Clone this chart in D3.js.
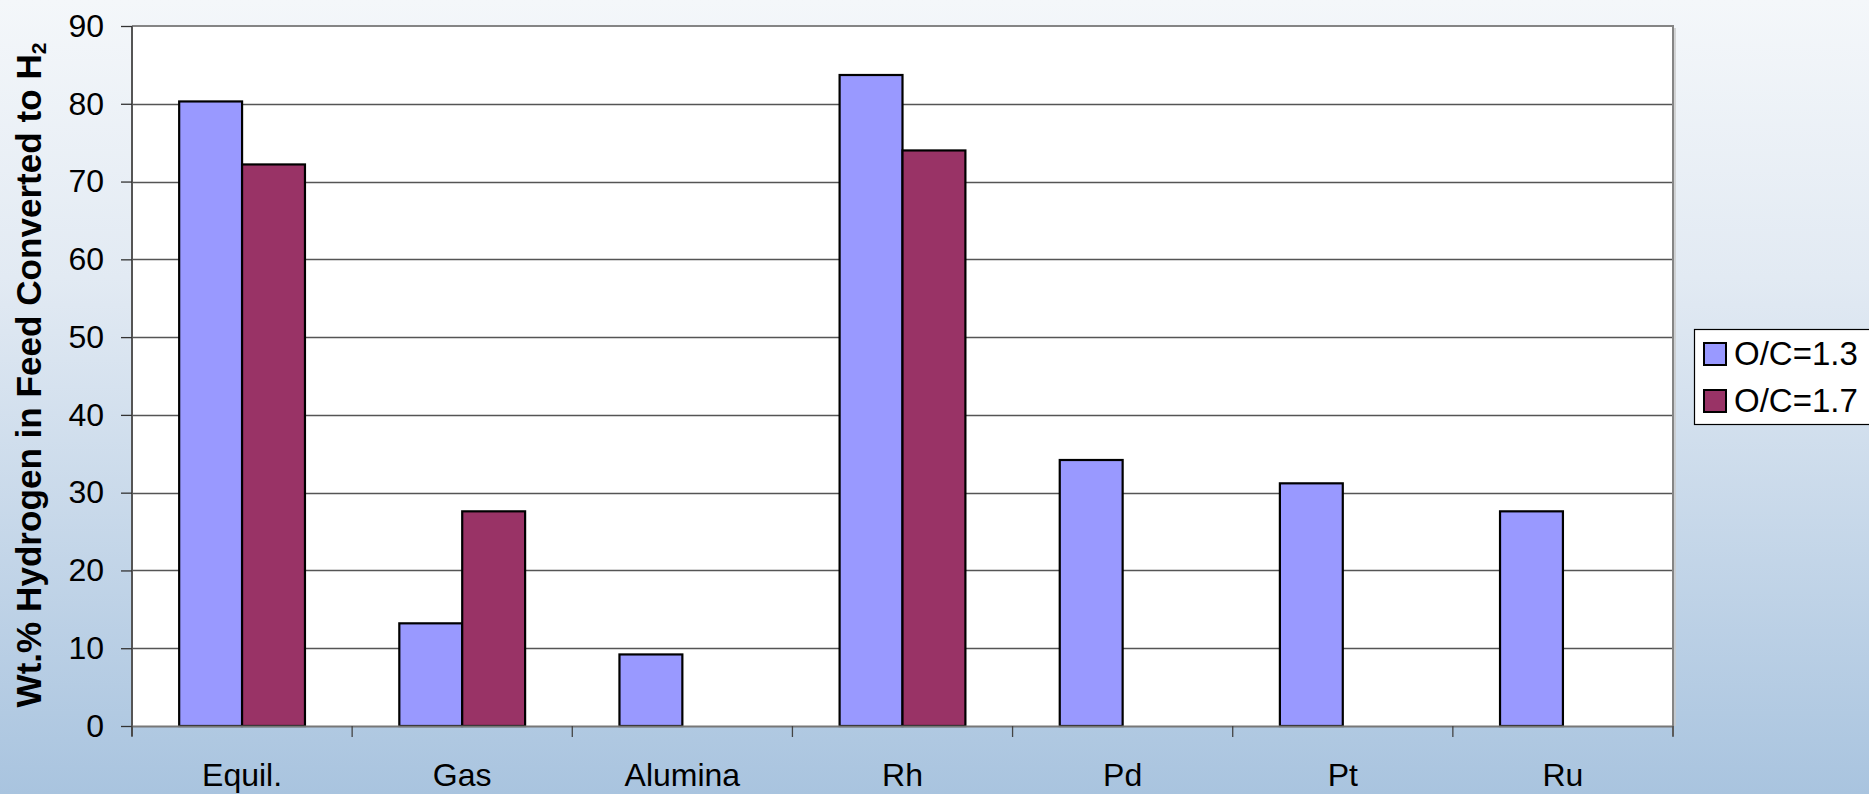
<!DOCTYPE html>
<html>
<head>
<meta charset="utf-8">
<script src="https://cdn.jsdelivr.net/npm/d3@7"></script>
<style>
  html, body { margin: 0; padding: 0; overflow: hidden; }
  svg { display: block; font-family: "Liberation Sans", Arial, sans-serif; }
</style>
</head>
<body>
<svg id="chart" width="1869" height="794"></svg>
<script>
// Catalysts compared
const categories = ["Equil.", "Gas", "Alumina", "Rh", "Pd", "Pt", "Ru"];
// Wt.% hydrogen in feed converted to H2, per O/C ratio (null = not measured)
const oc13 = [80.3, 13.2, 9.2, 83.7, 34.2, 31.2, 27.6];
const oc17 = [72.2, 27.6, null, 74.0, null, null, null];
const seriesNames = ["O/C=1.3", "O/C=1.7"];
const seriesColors = ["#9999ff", "#993366"];
const yTicks = [0, 10, 20, 30, 40, 50, 60, 70, 80, 90];

const W = 1869, H = 794;
const plot = { left: 132, top: 26, right: 1673, bottom: 726 };
const labelFont = 32;

const svg = d3.select("#chart");

// background gradient
const defs = svg.append("defs");
const grad = defs.append("linearGradient").attr("id", "bg")
  .attr("x1", 0).attr("y1", 0).attr("x2", 0).attr("y2", 1);
grad.append("stop").attr("offset", "0%").attr("stop-color", "#f4f7fa");
grad.append("stop").attr("offset", "35%").attr("stop-color", "#e2eaf3");
grad.append("stop").attr("offset", "100%").attr("stop-color", "#a9c4df");
svg.append("rect").attr("width", W).attr("height", H).attr("fill", "url(#bg)");

// plot area
svg.append("rect")
  .attr("x", plot.left).attr("y", plot.top)
  .attr("width", plot.right - plot.left).attr("height", plot.bottom - plot.top)
  .attr("fill", "#ffffff");

const x0 = d3.scaleBand().domain(categories).range([plot.left, plot.right]).padding(0);
const barW = x0.bandwidth() / 3.5;
const x1 = d3.scaleBand().domain([0, 1])
  .range([barW * 0.75, barW * 2.75]).padding(0);
const y = d3.scaleLinear().domain([0, 90]).range([plot.bottom, plot.top]);

// gridlines
svg.append("g")
  .selectAll("line")
  .data(yTicks.filter(t => t > 0 && t < 90))
  .join("line")
  .attr("x1", plot.left).attr("x2", plot.right)
  .attr("y1", d => Math.round(y(d)) + 0.5).attr("y2", d => Math.round(y(d)) + 0.5)
  .attr("stroke", "#555").attr("stroke-width", 1.4);

// top and right frame
svg.append("line")
  .attr("x1", plot.left).attr("x2", plot.right + 1)
  .attr("y1", plot.top).attr("y2", plot.top)
  .attr("stroke", "#858585").attr("stroke-width", 2);
svg.append("line")
  .attr("x1", plot.right).attr("x2", plot.right)
  .attr("y1", plot.top).attr("y2", plot.bottom + 10)
  .attr("stroke", "#858585").attr("stroke-width", 2);
svg.append("line")
  .attr("x1", plot.right + 2).attr("x2", plot.right + 2)
  .attr("y1", plot.top + 2).attr("y2", plot.bottom)
  .attr("stroke", "#c9c9c9").attr("stroke-width", 1.5);

// bars
const rows = categories.map((c, i) => ({ cat: c, vals: [oc13[i], oc17[i]] }));
const groups = svg.append("g").selectAll("g")
  .data(rows).join("g")
  .attr("transform", d => `translate(${x0(d.cat)},0)`);
groups.selectAll("rect")
  .data(d => d.vals.map((v, k) => ({ k, v })).filter(e => e.v !== null))
  .join("rect")
  .attr("x", e => x1(e.k))
  .attr("y", e => y(e.v))
  .attr("width", x1.bandwidth())
  .attr("height", e => y(0) - y(e.v))
  .attr("fill", e => seriesColors[e.k])
  .attr("stroke", "#000").attr("stroke-width", 2.2);

// y axis
const yAxis = d3.axisLeft(y).tickValues(yTicks).tickSize(11).tickPadding(17);
const gy = svg.append("g").attr("transform", `translate(${plot.left},0)`).call(yAxis);
gy.select(".domain").attr("stroke", "#555").attr("stroke-width", 2)
  .attr("d", `M0,${plot.top}V${plot.bottom + 10}`);
gy.selectAll(".tick line").attr("stroke", "#333").attr("stroke-width", 1.3);
gy.selectAll(".tick text").attr("font-size", labelFont).attr("fill", "#000")
  .attr("font-family", "Liberation Sans, Arial, sans-serif");

// x axis
const xAxis = d3.axisBottom(x0).tickSize(0).tickPadding(37);
const gx = svg.append("g").attr("transform", `translate(0,${plot.bottom})`).call(xAxis);
gx.select(".domain").attr("stroke", "#777").attr("stroke-width", 2);
gx.selectAll(".tick text").attr("font-size", labelFont).attr("fill", "#000")
  .attr("font-family", "Liberation Sans, Arial, sans-serif");
// category boundary ticks
const bounds = categories.map(c => x0(c)).concat([plot.right]);
svg.append("g").selectAll("line").data(bounds).join("line")
  .attr("x1", d => d).attr("x2", d => d)
  .attr("y1", plot.bottom).attr("y2", plot.bottom + 11)
  .attr("stroke", "#444").attr("stroke-width", 1.3);

// y axis title, sized to span the axis height
const titleLen = 665;
const yTitle = svg.append("text")
  .attr("transform", `translate(41,375) rotate(-90)`)
  .attr("text-anchor", "middle")
  .attr("font-weight", "bold").attr("fill", "#000");
const tMain = yTitle.append("tspan").text("Wt.% Hydrogen in Feed Converted to H");
const tSub = yTitle.append("tspan").text("2");
function sizeTitle(fs) {
  yTitle.attr("font-size", fs);
  tSub.attr("font-size", fs * 0.6).attr("dy", fs * 0.15);
}
sizeTitle(34);
const len = yTitle.node().getComputedTextLength();
if (len > 0) sizeTitle(34 * titleLen / len);

// legend
const lg = svg.append("g");
lg.append("rect")
  .attr("x", 1694.5).attr("y", 329.5).attr("width", 200).attr("height", 95)
  .attr("fill", "#fff").attr("stroke", "#000").attr("stroke-width", 1.2);
seriesNames.forEach((name, k) => {
  const cy = 354 + k * 47;
  lg.append("rect")
    .attr("x", 1704).attr("y", cy - 11).attr("width", 22).attr("height", 22)
    .attr("fill", seriesColors[k]).attr("stroke", "#000").attr("stroke-width", 2);
  lg.append("text")
    .attr("x", 1734).attr("y", cy + 11)
    .attr("font-size", 33).attr("fill", "#000").text(name);
});
</script>
</body>
</html>
